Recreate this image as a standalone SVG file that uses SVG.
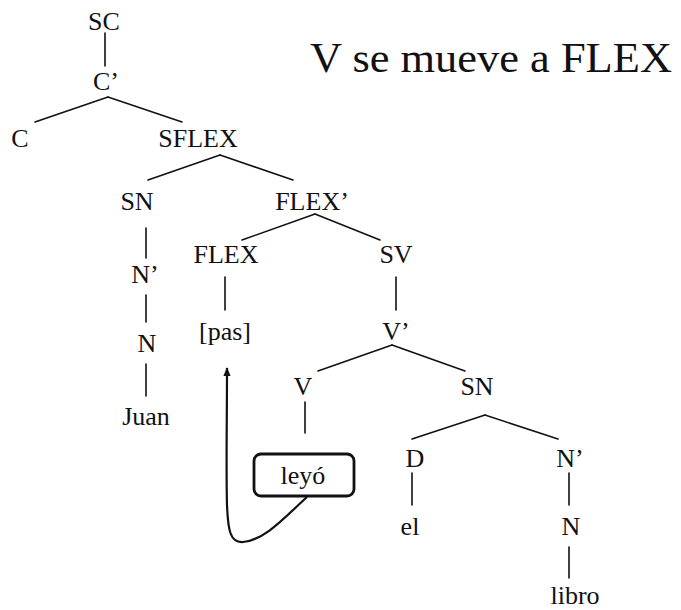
<svg xmlns="http://www.w3.org/2000/svg" width="681" height="610" viewBox="0 0 681 610">
<style>
text{font-family:'Liberation Serif',serif}
.t{font-family:'Liberation Serif',serif;font-size:26px;fill:#111;text-anchor:middle}
.title{font-family:'Liberation Serif',serif;font-size:42px;fill:#111}
.e{stroke:#111;stroke-width:1.6;fill:none;stroke-linecap:round}
.mv{stroke:#111;stroke-width:2.2;fill:none}
.box{stroke:#111;stroke-width:2.8;fill:#fff}
</style>
<defs>
<marker id="ah2" viewBox="0 0 10 10" refX="9" refY="5" markerWidth="9" markerHeight="9" orient="auto" markerUnits="userSpaceOnUse">
<path d="M0,1 L10,5 L0,9 Z" fill="#111"/>
</marker>
</defs>
<rect width="681" height="610" fill="#fff"/>
<text class="title" font-family="Liberation Serif" x="310" y="72" textLength="362" lengthAdjust="spacingAndGlyphs">V se mueve a FLEX</text>
<g id="connectors">
<line class="e" x1="105" y1="33" x2="105" y2="66"/>
<line class="e" x1="108" y1="97" x2="35" y2="122"/>
<line class="e" x1="108" y1="97" x2="182" y2="122"/>
<line class="e" x1="220" y1="155" x2="148" y2="180"/>
<line class="e" x1="220" y1="155" x2="293" y2="180"/>
<line class="e" x1="146" y1="228" x2="146" y2="258"/>
<line class="e" x1="146" y1="295" x2="146" y2="322"/>
<line class="e" x1="146" y1="364" x2="146" y2="396"/>
<line class="e" x1="315" y1="214" x2="242" y2="240"/>
<line class="e" x1="315" y1="214" x2="380" y2="240"/>
<line class="e" x1="225" y1="277" x2="225" y2="310"/>
<line class="e" x1="396" y1="277" x2="396" y2="310"/>
<line class="e" x1="392" y1="345" x2="318" y2="371"/>
<line class="e" x1="392" y1="345" x2="465" y2="371"/>
<line class="e" x1="305" y1="402" x2="305" y2="433"/>
<line class="e" x1="485" y1="415" x2="412" y2="439"/>
<line class="e" x1="485" y1="415" x2="558" y2="439"/>
<line class="e" x1="412" y1="473" x2="412" y2="505"/>
<line class="e" x1="569" y1="473" x2="569" y2="505"/>
<line class="e" x1="569" y1="547" x2="569" y2="578"/>
<path class="mv" d="M307,497 C285,517 265,540 243,542 C230,543 228,530 227,505 C226,470 227,420 227,368" marker-end="url(#ah2)"/>
</g>
<g id="SC"><text class="t" font-family="Liberation Serif" x="104" y="30">SC</text></g>
<g id="Cbar"><text class="t" font-family="Liberation Serif" x="106" y="90">C’</text></g>
<g id="C"><text class="t" font-family="Liberation Serif" x="20" y="147">C</text></g>
<g id="SFLEX"><text class="t" font-family="Liberation Serif" x="198" y="147">SFLEX</text></g>
<g id="SN1"><text class="t" font-family="Liberation Serif" x="137" y="210">SN</text></g>
<g id="FLEXbar"><text class="t" font-family="Liberation Serif" x="312" y="210">FLEX’</text></g>
<g id="Nbar1"><text class="t" font-family="Liberation Serif" x="145" y="283">N’</text></g>
<g id="N1"><text class="t" font-family="Liberation Serif" x="147" y="352">N</text></g>
<g id="Juan"><text class="t" font-family="Liberation Serif" x="146" y="425">Juan</text></g>
<g id="FLEX"><text class="t" font-family="Liberation Serif" x="226" y="263">FLEX</text></g>
<g id="SV"><text class="t" font-family="Liberation Serif" x="396" y="263">SV</text></g>
<g id="pas"><text class="t" font-family="Liberation Serif" x="225" y="340">[pas]</text></g>
<g id="Vbar"><text class="t" font-family="Liberation Serif" x="396" y="340">V’</text></g>
<g id="V"><text class="t" font-family="Liberation Serif" x="303" y="395">V</text></g>
<g id="SN2"><text class="t" font-family="Liberation Serif" x="477" y="395">SN</text></g>
<g id="leyo"><rect class="box" x="254" y="454" width="100" height="42" rx="7"/><text class="t" font-family="Liberation Serif" x="303" y="484">leyó</text></g>
<g id="D"><text class="t" font-family="Liberation Serif" x="415" y="467">D</text></g>
<g id="Nbar2"><text class="t" font-family="Liberation Serif" x="570" y="467">N’</text></g>
<g id="el"><text class="t" font-family="Liberation Serif" x="410" y="535">el</text></g>
<g id="N2"><text class="t" font-family="Liberation Serif" x="571" y="535">N</text></g>
<g id="libro"><text class="t" font-family="Liberation Serif" x="575" y="604">libro</text></g>
</svg>
